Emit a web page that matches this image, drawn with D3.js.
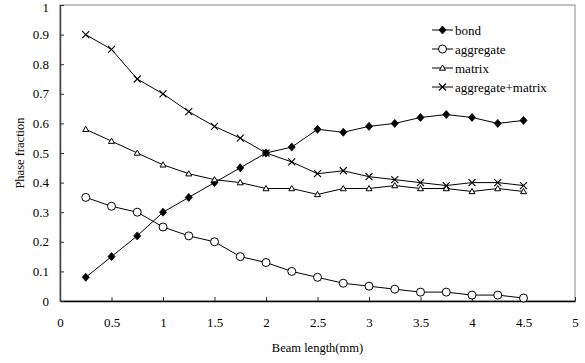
<!DOCTYPE html>
<html>
<head>
<meta charset="utf-8">
<script src="https://cdn.jsdelivr.net/npm/d3@7"></script>
<style>
  body { margin: 0; background: #fff; }
  svg { display: block; }
  svg text { font-family: "Liberation Serif", "DejaVu Serif", serif; fill: #000; }
</style>
</head>
<body>
<svg id="chart" width="585" height="363"></svg>
<script>
// Beam length (mm) at which each phase fraction was measured
const beamLength = [0.25, 0.5, 0.75, 1, 1.25, 1.5, 1.75, 2, 2.25, 2.5, 2.75, 3, 3.25, 3.5, 3.75, 4, 4.25, 4.5];

const bond = [0.08, 0.15, 0.22, 0.30, 0.35, 0.40, 0.45, 0.50, 0.52, 0.58, 0.57, 0.59, 0.60, 0.62, 0.63, 0.62, 0.60, 0.61];
const aggregate = [0.35, 0.32, 0.30, 0.25, 0.22, 0.20, 0.15, 0.13, 0.10, 0.08, 0.06, 0.05, 0.04, 0.03, 0.03, 0.02, 0.02, 0.01];
const matrix = [0.58, 0.54, 0.50, 0.46, 0.43, 0.41, 0.40, 0.38, 0.38, 0.36, 0.38, 0.38, 0.39, 0.38, 0.38, 0.37, 0.38, 0.37];
const aggregateMatrix = [0.90, 0.85, 0.75, 0.70, 0.64, 0.59, 0.55, 0.50, 0.47, 0.43, 0.44, 0.42, 0.41, 0.40, 0.39, 0.40, 0.40, 0.39];

const xTicks = [0, 0.5, 1, 1.5, 2, 2.5, 3, 3.5, 4, 4.5, 5];
const yTicks = [0, 0.1, 0.2, 0.3, 0.4, 0.5, 0.6, 0.7, 0.8, 0.9, 1];

const seriesNames = ["bond", "aggregate", "matrix", "aggregate+matrix"];
const seriesValues = [bond, aggregate, matrix, aggregateMatrix];
const seriesMarkers = ["diamond", "circle", "triangle", "cross"];

const svg = d3.select("#chart");
const plot = { left: 60, right: 575, top: 5, bottom: 301 };

const x = d3.scaleLinear().domain([0, 5]).range([plot.left, plot.right]);
const y = d3.scaleLinear().domain([0, 1]).range([plot.bottom, plot.top]);

// Frame: grey top/right border
svg.append("rect")
  .attr("x", plot.left).attr("y", plot.top)
  .attr("width", plot.right - plot.left).attr("height", plot.bottom - plot.top)
  .attr("fill", "none").attr("stroke", "#888").attr("stroke-width", 1);

// Axes with inward ticks
const xAxis = svg.append("g")
  .attr("transform", `translate(0,${plot.bottom})`)
  .call(d3.axisBottom(x).tickValues(xTicks).tickSizeInner(-4).tickSizeOuter(0).tickPadding(17)
    .tickFormat(d3.format("~g")));
const yAxis = svg.append("g")
  .attr("transform", `translate(${plot.left},0)`)
  .call(d3.axisLeft(y).tickValues(yTicks).tickSizeInner(-4).tickSizeOuter(0).tickPadding(11)
    .tickFormat(d3.format("~g")));

[xAxis, yAxis].forEach(g => {
  g.attr("font-family", null).attr("font-size", null);
  g.selectAll("text").style("font-size", "13px");
  g.selectAll(".tick line").attr("stroke", "#333");
});
// keep the top "1" label inside the canvas
yAxis.selectAll(".tick text").filter(d => d === 1).attr("dy", "0.5em");
xAxis.select(".domain").attr("stroke", "#000").attr("stroke-width", 1.5);
yAxis.select(".domain").attr("stroke", "#444").attr("stroke-width", 1.5);

// Axis titles
svg.append("text")
  .attr("x", (plot.left + plot.right) / 2).attr("y", 352)
  .attr("text-anchor", "middle").style("font-size", "12.5px")
  .text("Beam length(mm)");
svg.append("text")
  .attr("transform", `translate(24,${(plot.top + plot.bottom) / 2}) rotate(-90)`)
  .attr("text-anchor", "middle").style("font-size", "12.5px")
  .text("Phase fraction");

// Marker drawing
function drawMarker(g, type, cx, cy) {
  if (type === "diamond") {
    g.append("path")
      .attr("d", `M${cx},${cy - 4}L${cx + 3.5},${cy}L${cx},${cy + 4}L${cx - 3.5},${cy}Z`)
      .attr("fill", "#000").attr("stroke", "#000").attr("stroke-width", 0.8);
  } else if (type === "circle") {
    g.append("circle").attr("cx", cx).attr("cy", cy).attr("r", 4)
      .attr("fill", "#fff").attr("stroke", "#000").attr("stroke-width", 1);
  } else if (type === "triangle") {
    g.append("path")
      .attr("d", `M${cx},${cy - 3}L${cx + 3},${cy + 2.2}L${cx - 3},${cy + 2.2}Z`)
      .attr("fill", "#fff").attr("stroke", "#000").attr("stroke-width", 1);
  } else if (type === "cross") {
    g.append("path")
      .attr("d", `M${cx - 3.5},${cy - 3.5}L${cx + 3.5},${cy + 3.5}M${cx - 3.5},${cy + 3.5}L${cx + 3.5},${cy - 3.5}`)
      .attr("fill", "none").attr("stroke", "#000").attr("stroke-width", 1.1);
  }
}

const line = d3.line().x((d, i) => x(beamLength[i])).y(d => y(d));

seriesValues.forEach((vals, s) => {
  const g = svg.append("g").attr("class", "series");
  g.append("path").attr("d", line(vals))
    .attr("fill", "none").attr("stroke", "#000").attr("stroke-width", 1);
  vals.forEach((v, i) => drawMarker(g, seriesMarkers[s], x(beamLength[i]), y(v)));
});

// Legend
const legend = svg.append("g").attr("transform", "translate(432,30)");
seriesNames.forEach((name, i) => {
  const row = legend.append("g").attr("transform", `translate(0,${i * 19})`);
  row.append("line").attr("x1", 0).attr("x2", 21).attr("y1", 0).attr("y2", 0)
    .attr("stroke", "#000").attr("stroke-width", 1);
  drawMarker(row, seriesMarkers[i], 10.5, 0);
  row.append("text").attr("x", 23).attr("y", 4.5).style("font-size", "13px").text(name);
});
</script>
</body>
</html>
